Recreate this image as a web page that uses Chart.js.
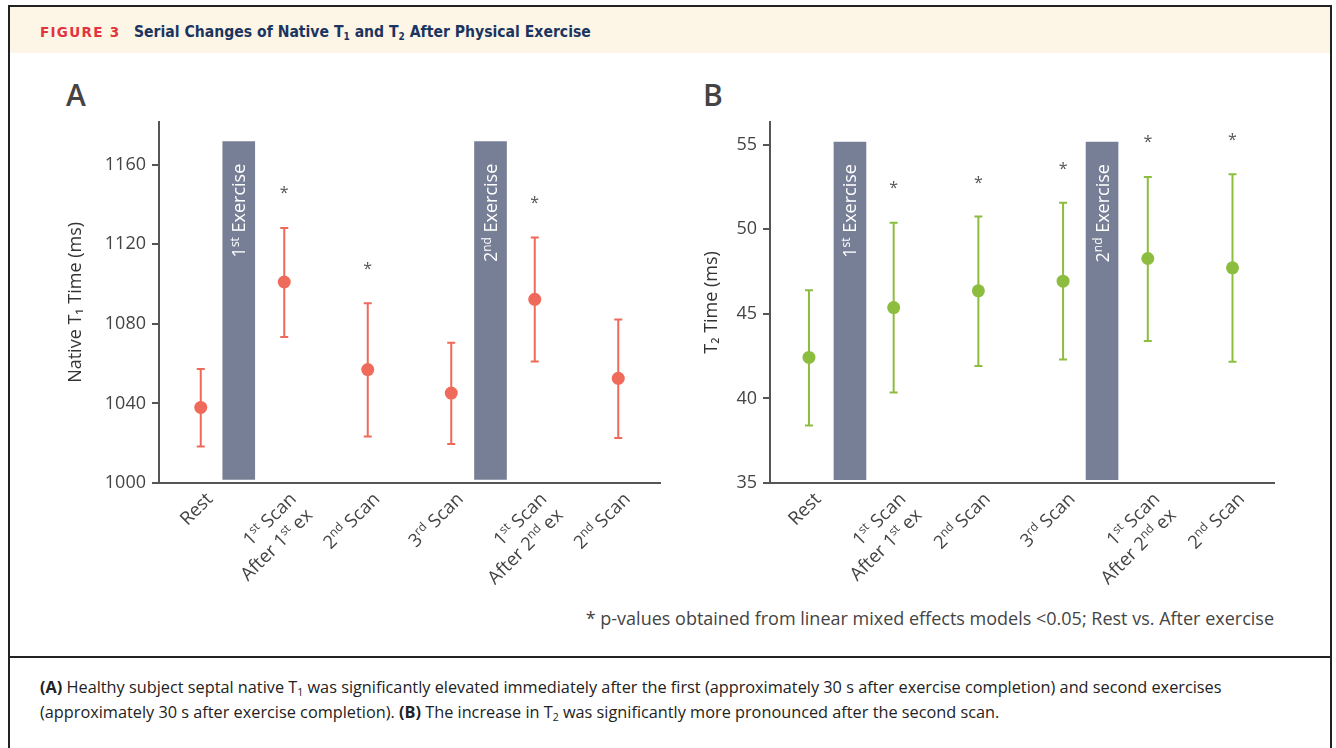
<!DOCTYPE html>
<html><head><meta charset="utf-8">
<script src="https://cdn.jsdelivr.net/npm/chart.js@4/dist/chart.umd.min.js"></script>
<style>
html,body{margin:0;padding:0;background:#fff;width:1336px;height:748px;overflow:hidden;font-family:"Open Sans",sans-serif;}
#frame{position:absolute;left:8px;top:5px;width:1324px;height:760px;border:2px solid #222;box-sizing:border-box;}
#header{position:absolute;left:10px;top:7px;width:1320px;height:46px;background:#fdf6e6;}
#fig{position:absolute;left:40px;top:24px;font-family:"DejaVu Sans",sans-serif;font-weight:bold;font-size:13.5px;letter-spacing:1.3px;color:#e2343f;}
#ttl{position:absolute;left:134px;top:23px;font-family:"DejaVu Sans Condensed","DejaVu Sans",sans-serif;font-stretch:condensed;font-weight:bold;font-size:15.6px;color:#1b3560;white-space:nowrap;}
#ttl sub{font-size:10px;vertical-align:-3px;}
#divider{position:absolute;left:8px;top:656px;width:1324px;height:2px;background:#222;}
#caption{position:absolute;left:40px;top:675px;width:1280px;font-size:16.3px;line-height:25px;color:#222;white-space:nowrap;}
#caption sub{font-size:10.5px;vertical-align:-3px;line-height:0;}
#foot{position:absolute;right:62px;top:606px;font-size:18px;color:#444;white-space:nowrap;}
.plab{position:absolute;font-size:30px;font-weight:600;color:#444;top:74px;}
canvas{position:absolute;}
</style></head>
<body>
<div id="frame"></div>
<div id="header"></div>
<div id="fig">FIGURE 3</div>
<div id="ttl">Serial Changes of Native T<sub>1</sub> and T<sub>2</sub> After Physical Exercise</div>
<div class="plab" style="left:66px">A</div>
<div class="plab" style="left:703px">B</div>
<div style="position:absolute;left:40px;top:105px;width:640px;height:490px"><canvas id="cA" width="640" height="490"></canvas></div>
<div style="position:absolute;left:680px;top:105px;width:640px;height:490px"><canvas id="cB" width="640" height="490"></canvas></div>
<div id="foot">* p-values obtained from linear mixed effects models &lt;0.05; Rest vs. After exercise</div>
<div id="divider"></div>
<div id="caption"><b>(A)</b> Healthy subject septal native T<sub>1</sub> was significantly elevated immediately after the first (approximately 30 s after exercise completion) and second exercises<br>(approximately 30 s after exercise completion). <b>(B)</b> The increase in T<sub>2</sub> was significantly more pronounced after the second scan.</div>
<script>
// ---- data ----
const xLabels = [["Rest"], ["1^st Scan", "After 1^st ex"], ["2^nd Scan"], ["3^rd Scan"], ["1^st Scan", "After 2^nd ex"], ["2^nd Scan"]];
const xPos = [0, 1, 2, 3, 4, 5];
const exerciseLabels = ["1^st Exercise", "2^nd Exercise"];

const meanA  = [1038, 1101, 1057, 1045.2, 1092.3, 1052.6];
const upperA = [1057.3, 1128.1, 1090.3, 1070.5, 1123.3, 1082.1];
const lowerA = [1018.4, 1073.4, 1023.4, 1019.6, 1061, 1022.6];
const starA  = [null, 1147, 1109, null, 1142, null];
const yTicksA = [1000, 1040, 1080, 1120, 1160];
const exPosA = [0.455, 3.47];
const exRangeA = [1001.8, 1171.5];

const meanB  = [42.42, 45.37, 46.36, 46.93, 48.27, 47.72];
const upperB = [46.4, 50.38, 50.75, 51.56, 53.09, 53.25];
const lowerB = [38.4, 40.35, 41.91, 42.3, 43.4, 42.16];
const starB  = [null, 52.6, 52.9, 53.7, 55.3, 55.4];
const yTicksB = [35, 40, 45, 50, 55];
const exPosB = [0.484, 3.46];
const exRangeB = [35.2, 55.15];

const FAM = '"Open Sans", sans-serif';

function parseRich(s){
  const out=[]; const re=/\^(\w+)/g; let last=0,m;
  while((m=re.exec(s))){ if(m.index>last) out.push({t:s.slice(last,m.index),sup:false}); out.push({t:m[1],sup:true}); last=re.lastIndex; }
  if(last<s.length) out.push({t:s.slice(last),sup:false});
  return out;
}
function drawRich(ctx, s, x, y, size, color, align){
  const segs=parseRich(s); const sup=Math.round(size*0.64);
  let w=0;
  segs.forEach(g=>{ctx.font=(g.sup?sup:size)+'px '+FAM; g.w=ctx.measureText(g.t).width; w+=g.w;});
  let cx = align==='right' ? x-w : (align==='center' ? x-w/2 : x);
  ctx.fillStyle=color; ctx.textAlign='left'; ctx.textBaseline='alphabetic';
  segs.forEach(g=>{ctx.font=(g.sup?sup:size)+'px '+FAM; ctx.fillText(g.t, cx, g.sup ? y-size*0.36 : y); cx+=g.w;});
}

const decorPlugin = {
  id:'decor',
  beforeDatasetDraw(chart, args, opts){
    if(args.meta.type!=='scatter') return;
    const ctx=chart.ctx, xs=chart.scales.x, ys=chart.scales.y;
    ctx.save(); ctx.strokeStyle=opts.color; ctx.lineWidth=2;
    opts.lo.forEach((lo,i)=>{
      const px=xs.getPixelForValue(xPos[i]);
      const a=ys.getPixelForValue(lo), b=ys.getPixelForValue(opts.hi[i]);
      ctx.beginPath(); ctx.moveTo(px,a); ctx.lineTo(px,b);
      ctx.moveTo(px-4,a); ctx.lineTo(px+4,a); ctx.moveTo(px-4,b); ctx.lineTo(px+4,b); ctx.stroke();
    });
    ctx.restore();
  },
  afterDraw(chart, args, opts){
    const ctx=chart.ctx, xs=chart.scales.x, ys=chart.scales.y;
    ctx.save();
    ctx.fillStyle='#555'; ctx.font='16px '+FAM; ctx.textAlign='center'; ctx.textBaseline='middle';
    opts.stars.forEach((v,i)=>{ if(v==null) return; ctx.fillText('*', xs.getPixelForValue(xPos[i]), ys.getPixelForValue(v)+3); });
    opts.exPos.forEach((p,k)=>{
      ctx.save(); ctx.translate(xs.getPixelForValue(p)+6.5, ys.getPixelForValue(opts.exTop)+22); ctx.rotate(-Math.PI/2);
      drawRich(ctx, exerciseLabels[k], 0, 0, 18, '#ffffff', 'right'); ctx.restore();
    });
    const y0=xs.top;
    xLabels.forEach((lines,i)=>{
      const px=xs.getPixelForValue(xPos[i]);
      ctx.save(); ctx.translate(px+13, y0+17); ctx.rotate(-Math.PI/4);
      lines.forEach((ln,j)=>drawRich(ctx, ln, 0, j*23, 18.5, '#444', 'right'));
      ctx.restore();
    });
    ctx.restore();
  }
};

function makeChart(id, cfg){
  return new Chart(document.getElementById(id), {
    type:'scatter',
    data:{datasets:[
      {type:'bar', data:cfg.exPos.map(p=>({x:p, y:cfg.exRange})), backgroundColor:'#777f97', barThickness:32, grouped:false, order:2},
      {type:'scatter', data:cfg.mean.map((v,i)=>({x:xPos[i], y:v})), backgroundColor:cfg.color, pointRadius:6.5, pointHoverRadius:6.5, borderWidth:0, order:1}
    ]},
    options:{
      responsive:false, animation:false, events:[],
      layout:{padding:{top:9,right:cfg.padRight,left:0,bottom:0}},
      plugins:{legend:{display:false}, tooltip:{enabled:false},
        decor:{color:cfg.color, lo:cfg.lo, hi:cfg.hi, stars:cfg.stars, exPos:cfg.exPos, exTop:cfg.exRange[1]}},
      scales:{
        x:{type:'linear', offset:false, min:cfg.xMin, max:cfg.xMax,
           afterBuildTicks:s=>{s.ticks=xPos.map(v=>({value:v}));},
           afterFit:s=>{s.height=112;},
           ticks:{display:false}, grid:{display:false, offset:false}, border:{color:'#555',width:2}},
        y:{type:'linear', min:cfg.yMin, max:cfg.yMax,
           afterBuildTicks:s=>{s.ticks=cfg.yTicks.map(v=>({value:v}));},
           afterFit:s=>{s.width=cfg.yWidth;},
           ticks:{color:'#444', font:{family:FAM,size:18}, padding:6, callback:v=>String(v)},
           grid:{drawOnChartArea:false, drawTicks:true, tickLength:7, color:'#555', lineWidth:2},
           border:{color:'#555',width:2},
           title:{display:true, text:cfg.title, color:'#333', font:{family:FAM,size:18}, padding:{top:cfg.titlePad,bottom:0}}}
      }
    },
    plugins:[decorPlugin]
  });
}

makeChart('cA', {mean:meanA, lo:lowerA, hi:upperA, stars:starA, yTicks:yTicksA, exPos:exPosA, exRange:exRangeA,
  color:'#ef6a5a', yMin:1000, yMax:1181.5, xMin:-0.5, xMax:5.5, yWidth:119, padRight:20, titlePad:25, title:'Native T\u2081 Time (ms)'});
makeChart('cB', {mean:meanB, lo:lowerB, hi:upperB, stars:starB, yTicks:yTicksB, exPos:exPosB, exRange:exRangeB,
  color:'#8cbd3f', yMin:35, yMax:56.35, xMin:-0.46, xMax:5.49, yWidth:90, padRight:46, titlePad:21, title:'T\u2082 Time (ms)'});
</script>
</body></html>
